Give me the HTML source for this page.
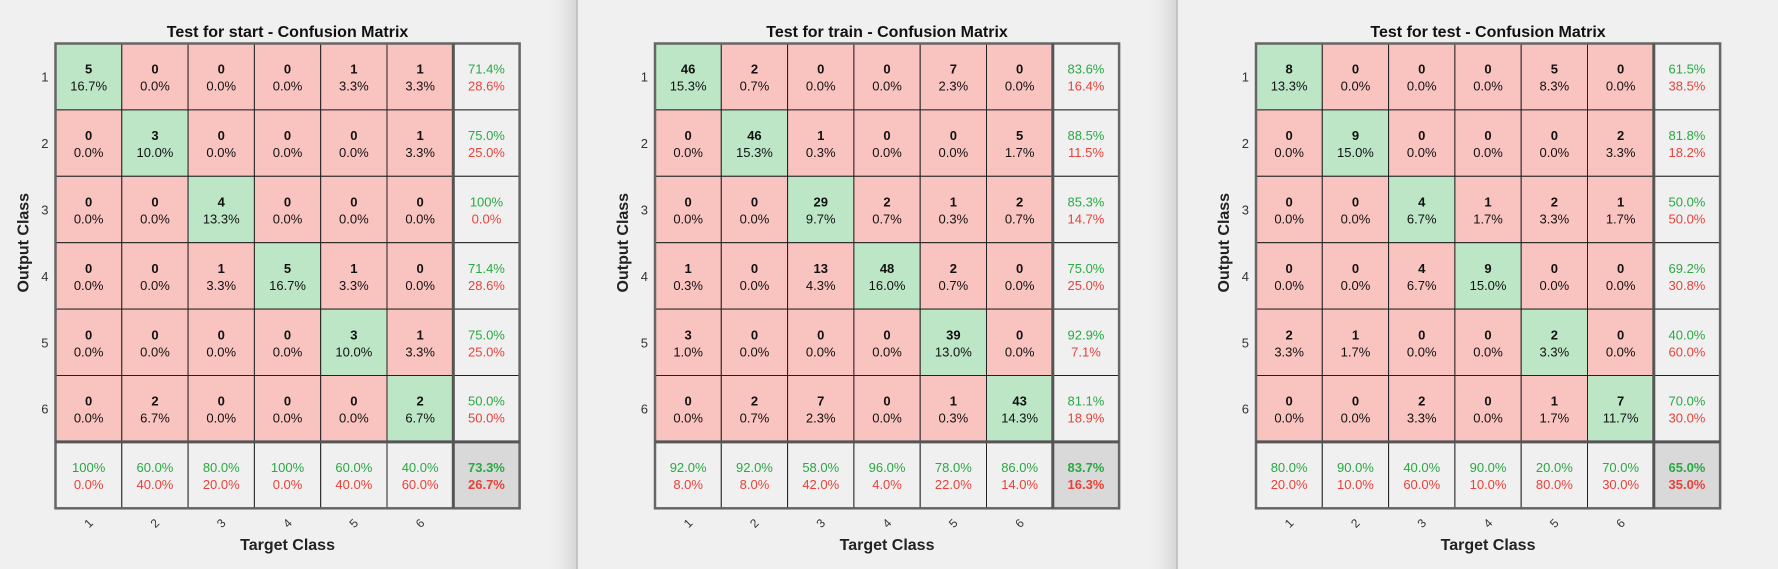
<!DOCTYPE html>
<html><head><meta charset="utf-8"><style>
html,body{margin:0;padding:0;background:#f0f0f0;}
svg{display:block;font-family:"Liberation Sans",Arial,sans-serif;}
</style></head><body>
<svg id="chart" width="1778" height="569" viewBox="0 0 1778 569" xmlns="http://www.w3.org/2000/svg">
<defs>
<linearGradient id="shadow" x1="0" x2="1" y1="0" y2="0">
<stop offset="0" stop-color="#f0f0f0" stop-opacity="0"/>
<stop offset="1" stop-color="#d6d6d6" stop-opacity="1"/>
</linearGradient>
</defs>
<rect x="0" y="0" width="1778" height="569" fill="#f0f0f0"/>
<rect x="545" y="0" width="31" height="569" fill="url(#shadow)"/>
<rect x="576" y="0" width="2" height="569" fill="#c4c4c4"/>
<rect x="1145" y="0" width="31" height="569" fill="url(#shadow)"/>
<rect x="1176" y="0" width="2" height="569" fill="#c4c4c4"/>
</svg>
<script>
const titles = ["Test for start - Confusion Matrix","Test for train - Confusion Matrix","Test for test - Confusion Matrix"];
const classLabels = ["1","2","3","4","5","6"];
const startMatrix = [
 [5,0,0,0,1,1],
 [0,3,0,0,0,1],
 [0,0,4,0,0,0],
 [0,0,1,5,1,0],
 [0,0,0,0,3,1],
 [0,2,0,0,0,2]];
const trainMatrix = [
 [46,2,0,0,7,0],
 [0,46,1,0,0,5],
 [0,0,29,2,1,2],
 [1,0,13,48,2,0],
 [3,0,0,0,39,0],
 [0,2,7,0,1,43]];
const testMatrix = [
 [8,0,0,0,5,0],
 [0,9,0,0,0,2],
 [0,0,4,1,2,1],
 [0,0,4,9,0,0],
 [2,1,0,0,2,0],
 [0,0,2,0,1,7]];
const matrices = [startMatrix, trainMatrix, testMatrix];
const panelNames = ["start","train","test"];

const NS = "http://www.w3.org/2000/svg";
const svg = document.getElementById("chart");
const cellW = 66.3, cellH = 66.4, gridTop = 43.5;
const panelLeft = [55.5, 655, 1256];
function xPos(p, c){ return panelLeft[p] + c*cellW; }
function yPos(r){ return gridTop + r*cellH; }
function mk(tag, attrs){ const e=document.createElementNS(NS,tag); for(const k in attrs) e.setAttribute(k,attrs[k]); return e; }
function fmt(v){ if (Math.abs(v-100)<1e-9) return "100%"; return v.toFixed(1)+"%"; }

matrices.forEach((m,p)=>{
  const g = mk("g",{});
  
  
  svg.appendChild(g);
  const n = m.length;
  let total=0, correct=0;
  m.forEach((row,i)=>row.forEach((v,j)=>{ total+=v; if(i===j) correct+=v; }));
  const gridW = (n+1)*cellW, gridH=(n+1)*cellH;
  const L = xPos(p,0);
  const t = mk("text",{x:L+gridW/2,y:37,"text-anchor":"middle","font-size":"16","font-weight":"bold",fill:"#111"});
  t.textContent = titles[p];
  
  
  g.appendChild(t);
  function cell(x,y,fill,l1,l2,c1,c2,bold1,bold2,name){
    const r = mk("rect",{x:x,y:y,width:cellW,height:cellH,fill:fill,stroke:"#222","stroke-width":"1"});
    
    
    g.appendChild(r);
    const a = mk("text",{x:x+cellW/2,y:y+cellH/2-3,"text-anchor":"middle","font-size":"13",fill:c1});
    if(bold1) a.setAttribute("font-weight","bold");
    a.textContent=l1;
    
    
    g.appendChild(a);
    const b = mk("text",{x:x+cellW/2,y:y+cellH/2+14,"text-anchor":"middle","font-size":"13",fill:c2});
    if(bold2) b.setAttribute("font-weight","bold");
    b.textContent=l2;
    
    
    g.appendChild(b);
  }
  for(let i=0;i<n;i++){
    for(let j=0;j<n;j++){
      const v=m[i][j];
      cell(xPos(p,j),yPos(i), i===j?"#bde6c7":"#f9c3c0", String(v), fmt(100*v/total), "#111","#111", true, false, "cell-"+(i+1)+"-"+(j+1));
    }
    const rs = m[i].reduce((a,b)=>a+b,0);
    const pr = rs? 100*m[i][i]/rs : 0;
    cell(xPos(p,n),yPos(i),"#f0f0f0", fmt(pr), fmt(100-pr), "#2aa844","#e8423a", false, false, "row-summary-"+(i+1));
    const lab = mk("text",{x:L-7,y:yPos(i)+cellH/2+5,"text-anchor":"end","font-size":"13",fill:"#333"});
    lab.textContent=classLabels[i];
    
    
    g.appendChild(lab);
  }
  for(let j=0;j<n;j++){
    let cs=0; for(let i=0;i<n;i++) cs+=m[i][j];
    const pc = cs? 100*m[j][j]/cs : 0;
    cell(xPos(p,j),yPos(n),"#f0f0f0", fmt(pc), fmt(100-pc), "#2aa844","#e8423a", false, false, "col-summary-"+(j+1));
    const cx = xPos(p,j)+cellW/2, cy = yPos(n)+cellH+19;
    const lab = mk("text",{x:cx,y:cy,"text-anchor":"middle","font-size":"12",fill:"#333",transform:"rotate(-45 "+cx+" "+(cy-4)+")"});
    lab.textContent=classLabels[j];
    
    
    g.appendChild(lab);
  }
  const acc = 100*correct/total;
  cell(xPos(p,n),yPos(n),"#d9d9d9", fmt(acc), fmt(100-acc), "#2aa844","#e8423a", true, true, "overall-accuracy");
  const bx = mk("rect",{x:L,y:gridTop,width:gridW,height:gridH,fill:"none",stroke:"#666","stroke-width":"2.5"});
  
  
  g.appendChild(bx);
  const vl = mk("line",{x1:xPos(p,n),x2:xPos(p,n),y1:gridTop,y2:gridTop+gridH,stroke:"#555","stroke-width":"3"});
  
  
  g.appendChild(vl);
  const hl = mk("line",{x1:L,x2:L+gridW,y1:yPos(n),y2:yPos(n),stroke:"#555","stroke-width":"3"});
  
  
  g.appendChild(hl);
  const xt = mk("text",{x:L+gridW/2,y:550,"text-anchor":"middle","font-size":"16","font-weight":"bold",fill:"#222"});
  xt.textContent="Target Class";
  
  
  g.appendChild(xt);
  const yc = gridTop+gridH/2 - cellH/2, yx = L-27;
  const yt = mk("text",{x:yx,y:yc,"text-anchor":"middle","font-size":"16","font-weight":"bold",fill:"#222",transform:"rotate(-90 "+yx+" "+yc+")"});
  yt.textContent="Output Class";
  
  
  g.appendChild(yt);
});
</script>
</body></html>
